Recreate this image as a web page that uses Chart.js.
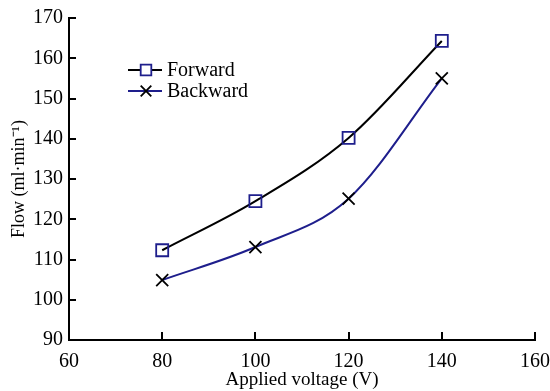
<!DOCTYPE html>
<html>
<head>
<meta charset="utf-8">
<script src="https://cdn.jsdelivr.net/npm/chart.js@4"></script>
<style>
  html, body { margin: 0; padding: 0; background: #fff; }
  #wrap { width: 550px; height: 391px; }
</style>
</head>
<body>
<div id="wrap"><canvas id="chart1"></canvas></div>
<script>
var voltages = [80, 100, 120, 140];
var forwardFlow = [112.3, 124.5, 140.2, 164.3];
var backwardFlow = [104.9, 113.1, 125.1, 155.0];
var xTicks = [60, 80, 100, 120, 140, 160];
var yTicks = [90, 100, 110, 120, 130, 140, 150, 160, 170];

var blue = '#1e1e8c';
var serif = "'Liberation Serif', 'Times New Roman', serif";

function toPoints(xs, ys) {
    var pts = [];
    for (var i = 0; i < xs.length; i++)
        pts.push({ x: xs[i], y: ys[i] });
    return pts;
}

// inward tick marks + legend inside the plot
var extras = {
    id: 'extras',
    afterDraw: function (chart) {
        var ctx = chart.ctx;
        var xs = chart.scales.x, ys = chart.scales.y;
        var area = chart.chartArea;
        ctx.save();
        ctx.fillStyle = '#000';
        for (var i = 0; i < xTicks.length; i++) {
            var px = Math.round(xs.getPixelForValue(xTicks[i]));
            ctx.fillRect(px - 1, area.bottom - 8, 2, 8);
        }
        for (var j = 0; j < yTicks.length; j++) {
            var py = Math.round(ys.getPixelForValue(yTicks[j]));
            ctx.fillRect(area.left, py - 1, 7, 2);
        }

        var items = [
            { label: 'Forward', line: '#000', mark: 'rect', markColor: blue, y: 70 },
            { label: 'Backward', line: blue, mark: 'crossRot', markColor: '#000', y: 91 }
        ];
        ctx.font = '20px ' + serif;
        ctx.textBaseline = 'middle';
        items.forEach(function (it) {
            ctx.strokeStyle = it.line;
            ctx.lineWidth = 2;
            ctx.beginPath();
            ctx.moveTo(128, it.y);
            ctx.lineTo(162, it.y);
            ctx.stroke();
            ctx.strokeStyle = it.markColor;
            ctx.fillStyle = '#fff';
            ctx.lineWidth = 1.8;
            Chart.helpers.drawPoint(ctx, { pointStyle: it.mark, radius: 7.5, rotation: 0, borderWidth: 1.8 }, 146, it.y);
            ctx.fillStyle = '#000';
            ctx.fillText(it.label, 167, it.y + 1);
        });
        ctx.restore();
    }
};

var config = {
    type: 'line',
    plugins: [extras],
    data: {
        datasets: [{
            label: 'Forward',
            data: toPoints(voltages, forwardFlow),
            borderColor: '#000',
            borderWidth: 2,
            cubicInterpolationMode: 'monotone',
            pointStyle: 'rect',
            pointRadius: 8.5,
            pointBorderWidth: 1.8,
            pointBorderColor: blue,
            pointBackgroundColor: 'rgba(0,0,0,0)'
        }, {
            label: 'Backward',
            data: toPoints(voltages, backwardFlow),
            borderColor: blue,
            borderWidth: 2,
            cubicInterpolationMode: 'monotone',
            pointStyle: 'crossRot',
            pointRadius: 8.5,
            pointBorderWidth: 1.8,
            pointBorderColor: '#000',
            pointBackgroundColor: '#000'
        }]
    },
    options: {
        responsive: true,
        maintainAspectRatio: false,
        animation: false,
        layout: { padding: { top: 18, right: 15, left: 8, bottom: 0 } },
        plugins: {
            legend: { display: false },
            tooltip: { enabled: false }
        },
        scales: {
            x: {
                type: 'linear',
                min: 60,
                max: 160,
                afterBuildTicks: function (s) { s.ticks = xTicks.map(function (v) { return { value: v }; }); },
                afterFit: function (s) { s.height = 51; s.paddingRight = 0; s.paddingLeft = 0; },
                grid: { display: false },
                border: { display: true, color: '#000', width: 2 },
                ticks: { color: '#000', padding: 2, font: { family: serif, size: 20 } },
                title: {
                    display: true,
                    text: 'Applied voltage (V)',
                    color: '#000',
                    padding: { top: 0, bottom: 0 },
                    font: { family: serif, size: 19 }
                }
            },
            y: {
                min: 90,
                max: 170,
                afterBuildTicks: function (s) { s.ticks = yTicks.map(function (v) { return { value: v }; }); },
                afterFit: function (s) { s.width = 61; s.paddingTop = 0; s.paddingBottom = 0; },
                grid: { display: false, drawTicks: false },
                border: { display: true, color: '#000', width: 2 },
                ticks: { color: '#000', padding: 6, font: { family: serif, size: 20 } },
                title: {
                    display: true,
                    text: 'Flow (ml·min⁻¹)',
                    color: '#000',
                    padding: { top: 0, bottom: 0 },
                    font: { family: serif, size: 18 }
                }
            }
        }
    }
};

var ctx = document.getElementById('chart1').getContext('2d');
var chart1 = new Chart(ctx, config);
</script>
</body>
</html>
